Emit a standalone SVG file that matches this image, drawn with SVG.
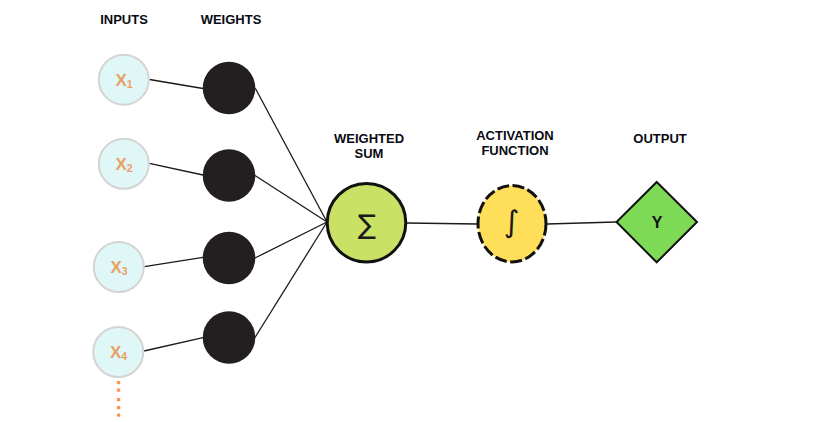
<svg xmlns="http://www.w3.org/2000/svg" width="826" height="422" viewBox="0 0 826 422">
<style>
.lbl{font-family:"Liberation Sans",Arial,sans-serif;font-weight:bold;font-size:13px;fill:#0a0a14;text-anchor:middle}
.inp{fill:#E0F7F7;stroke:#D4D4D4;stroke-width:2}
.xt{font-family:"Liberation Sans",Arial,sans-serif;font-weight:bold;font-size:17px;fill:#E9A064;text-anchor:middle}
.wt{fill:#231F20}
.con{stroke:#1a1a1a;stroke-width:1.3;fill:none}
.dot{fill:#FF914D}
</style>
<rect width="826" height="422" fill="#ffffff"/>
<g id="labels">
<text class="lbl" x="124" y="24">INPUTS</text>
<text class="lbl" x="231" y="24">WEIGHTS</text>
<text class="lbl" x="369" y="143">WEIGHTED</text>
<text class="lbl" x="369" y="158">SUM</text>
<text class="lbl" x="515" y="140">ACTIVATION</text>
<text class="lbl" x="515" y="155">FUNCTION</text>
<text class="lbl" x="660" y="143">OUTPUT</text>
</g>
<g id="connectors">
<line class="con" x1="149.5" y1="79.5" x2="203" y2="88.5"/>
<line class="con" x1="149.3" y1="163.3" x2="203" y2="175"/>
<line class="con" x1="144.3" y1="266.7" x2="203" y2="257.3"/>
<line class="con" x1="144" y1="351" x2="203" y2="337.7"/>
<line class="con" x1="255.3" y1="88.3" x2="327" y2="222"/>
<line class="con" x1="255" y1="175.5" x2="327" y2="222"/>
<line class="con" x1="255" y1="258" x2="327" y2="222"/>
<line class="con" x1="255" y1="337.5" x2="327" y2="222"/>
<line class="con" x1="407" y1="223" x2="477" y2="224"/>
<line class="con" x1="547" y1="224" x2="616" y2="222"/>
</g>
<g id="x1"><circle class="inp" cx="123.8" cy="79.7" r="25"/><text class="xt" x="124" y="85.5">X<tspan font-size="10.5" dy="2">1</tspan></text></g>
<g id="x2"><circle class="inp" cx="123.8" cy="163.8" r="25"/><text class="xt" x="124" y="169.5">X<tspan font-size="10.5" dy="2">2</tspan></text></g>
<g id="x3"><circle class="inp" cx="118.8" cy="267" r="25"/><text class="xt" x="119" y="273">X<tspan font-size="10.5" dy="2">3</tspan></text></g>
<g id="x4"><circle class="inp" cx="118.3" cy="352" r="25"/><text class="xt" x="118.5" y="358">X<tspan font-size="10.5" dy="2">4</tspan></text></g>
<g id="more">
<rect class="dot" x="117" y="381" width="3.2" height="3.2"/>
<rect class="dot" x="117" y="388.5" width="3.2" height="3.2"/>
<rect class="dot" x="117" y="398" width="3.2" height="3.2"/>
<rect class="dot" x="117" y="406" width="3.2" height="3.2"/>
<rect class="dot" x="117" y="413.5" width="3.2" height="3.2"/>
</g>
<g id="w1"><circle class="wt" cx="229" cy="88" r="26.3"/></g>
<g id="w2"><circle class="wt" cx="229" cy="175.5" r="26.3"/></g>
<g id="w3"><circle class="wt" cx="229" cy="258" r="26.3"/></g>
<g id="w4"><circle class="wt" cx="229" cy="337.5" r="26.3"/></g>
<g id="sum">
<circle cx="366.5" cy="222.7" r="39.3" fill="#C9E265" stroke="#111" stroke-width="3"/>
<text x="367" y="234" font-family="DejaVu Sans,sans-serif" font-size="27" fill="#1a1a1a" text-anchor="middle">∑</text>
</g>
<g id="activation">
<ellipse cx="512" cy="223.7" rx="34" ry="38.2" fill="#FFDE59" stroke="#111" stroke-width="3" stroke-dasharray="12,3.5"/>
<text x="511.5" y="232" font-family="DejaVu Sans,sans-serif" font-size="30" fill="#1a1a1a" text-anchor="middle">∫</text>
</g>
<g id="output">
<polygon points="656.7,182 697,222 656.7,262.3 616.5,222" fill="#7ED957" stroke="#111" stroke-width="2"/>
<text x="657" y="227.5" font-family="Liberation Sans,Arial,sans-serif" font-weight="bold" font-size="16" fill="#111" text-anchor="middle">Y</text>
</g>
</svg>
